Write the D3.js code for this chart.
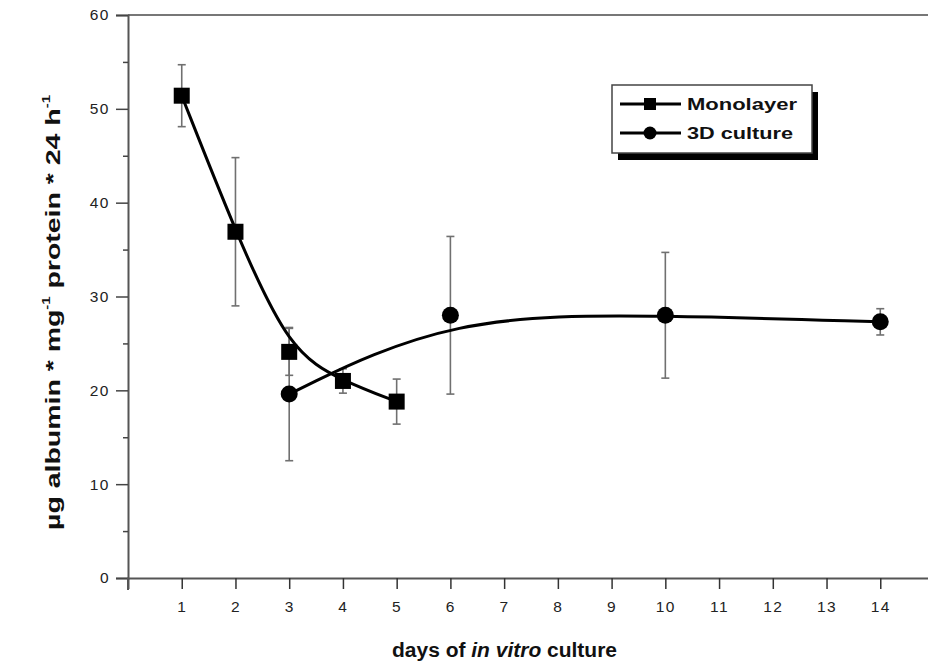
<!DOCTYPE html>
<html>
<head>
<meta charset="utf-8">
<script src="https://cdn.jsdelivr.net/npm/d3@7"></script>
<style>
  body { margin: 0; background: #fff; }
  svg { display: block; font-family: "Liberation Sans", Arial, Helvetica, sans-serif; }
</style>
</head>
<body>
<svg id="chart" width="928" height="664"></svg>
<script>
// ---- data ----
const monoDays  = [1, 2, 3, 4, 5];
const monoVals  = [51.4, 36.9, 24.1, 21.0, 18.8];
const monoErr   = [3.3, 7.9, 2.5, 1.3, 2.4];
const cultDays  = [3, 6, 10, 14];
const cultVals  = [19.6, 28.0, 28.0, 27.3];
const cultErr   = [7.1, 8.4, 6.7, 1.4];
const xTicks    = [1, 2, 3, 4, 5, 6, 7, 8, 9, 10, 11, 12, 13, 14];
const yTicks    = [0, 10, 20, 30, 40, 50, 60];
const yMinor    = [5, 15, 25, 35, 45, 55];
const seriesNames = ["Monolayer", "3D culture"];

(function () {
const svg = d3.select("#chart");
const mLeft = 128, mRight = 934, mTop = 15, mBottom = 578;
const x = d3.scaleLinear().domain([0, 15]).range([mLeft, mRight]);
const y = d3.scaleLinear().domain([0, 60]).range([mBottom, mTop]);

const axisColor = "#555";

// frame top line
svg.append("line").attr("x1", mLeft).attr("x2", 928).attr("y1", mTop).attr("y2", mTop)
  .attr("stroke", "#777").attr("stroke-width", 2);

// x axis
const xAxis = svg.append("g").attr("transform", `translate(0,${mBottom})`)
  .call(d3.axisBottom(x).tickValues(xTicks).tickSize(11).tickPadding(12).tickFormat(d3.format("d")));
xAxis.select(".domain").attr("stroke", axisColor).attr("stroke-width", 2);
xAxis.selectAll(".tick line").attr("stroke", "#333").attr("stroke-width", 1.5);
xAxis.selectAll("text").attr("font-size", 15.5).attr("letter-spacing", 1.5).attr("fill", "#222");

// y axis
const yAxis = svg.append("g").attr("transform", `translate(${mLeft},0)`)
  .call(d3.axisLeft(y).tickValues(yTicks).tickSize(12).tickPadding(6));
yAxis.select(".domain").attr("stroke", axisColor).attr("stroke-width", 2);
yAxis.selectAll(".tick line").attr("stroke", "#444").attr("stroke-width", 1.5);
yAxis.selectAll("text").attr("font-size", 15.5).attr("letter-spacing", 1.5).attr("fill", "#222");
const yAxisMinor = svg.append("g").attr("transform", `translate(${mLeft},0)`)
  .call(d3.axisLeft(y).tickValues(yMinor).tickSize(5).tickFormat(""));
yAxisMinor.select(".domain").remove();
yAxisMinor.selectAll(".tick line").attr("stroke", "#444").attr("stroke-width", 1.5);

// left axis extension below x-axis
svg.append("line").attr("x1", mLeft).attr("x2", mLeft).attr("y1", mBottom).attr("y2", mBottom + 12)
  .attr("stroke", axisColor).attr("stroke-width", 2);

// error bars
function errorBars(days, vals, errs) {
  const g = svg.append("g").attr("stroke", "#707070").attr("stroke-width", 1.6);
  days.forEach((d, i) => {
    const cx = x(d), y1 = y(vals[i] + errs[i]), y2 = y(vals[i] - errs[i]);
    g.append("line").attr("x1", cx).attr("x2", cx).attr("y1", y1).attr("y2", y2);
    g.append("line").attr("x1", cx - 4).attr("x2", cx + 4).attr("y1", y1).attr("y2", y1);
    g.append("line").attr("x1", cx - 4).attr("x2", cx + 4).attr("y1", y2).attr("y2", y2);
  });
}
errorBars(monoDays, monoVals, monoErr);
errorBars(cultDays, cultVals, cultErr);

// curves
const line = d3.line().x(d => x(d[0])).y(d => y(d[1])).curve(d3.curveBasis);
svg.append("path").datum(monoDays.map((d, i) => [d, monoVals[i]]))
  .attr("d", line).attr("fill", "none").attr("stroke", "#000").attr("stroke-width", 3);
svg.append("path").datum(cultDays.map((d, i) => [d, cultVals[i]]))
  .attr("d", line).attr("fill", "none").attr("stroke", "#000").attr("stroke-width", 3);

// markers
svg.append("g").selectAll("rect").data(monoDays).join("rect")
  .attr("x", d => x(d) - 8).attr("y", (d, i) => y(monoVals[i]) - 8)
  .attr("width", 16).attr("height", 16).attr("fill", "#000");
svg.append("g").selectAll("circle").data(cultDays).join("circle")
  .attr("cx", d => x(d)).attr("cy", (d, i) => y(cultVals[i])).attr("r", 8.5).attr("fill", "#000");

// legend
const lg = svg.append("g");
lg.append("rect").attr("x", 618).attr("y", 92).attr("width", 200).attr("height", 68).attr("fill", "#000");
lg.append("rect").attr("x", 612).attr("y", 85).attr("width", 200).attr("height", 68)
  .attr("fill", "#fff").attr("stroke", "#444").attr("stroke-width", 1.5);
const legendWidths = [110, 106];
[104, 133].forEach((ly, i) => {
  lg.append("line").attr("x1", 620).attr("x2", 681).attr("y1", ly).attr("y2", ly)
    .attr("stroke", "#000").attr("stroke-width", 3);
  if (i === 0) lg.append("rect").attr("x", 644).attr("y", ly - 6).attr("width", 12).attr("height", 12).attr("fill", "#000");
  else lg.append("circle").attr("cx", 650).attr("cy", ly).attr("r", 6.5).attr("fill", "#000");
  lg.append("text").attr("x", 687).attr("y", ly + 6).attr("font-size", 17).attr("font-weight", "bold")
    .attr("textLength", legendWidths[i]).attr("lengthAdjust", "spacingAndGlyphs")
    .attr("fill", "#111").text(seriesNames[i]);
});

// x title
const xt = svg.append("text").attr("x", 392).attr("y", 657)
  .attr("font-size", 20).attr("font-weight", "bold").attr("fill", "#111")
  .attr("textLength", 225).attr("lengthAdjust", "spacingAndGlyphs");
xt.append("tspan").text("days of ");
xt.append("tspan").attr("font-style", "italic").text("in vitro");
xt.append("tspan").text(" culture");

// y title
const yt = svg.append("text").attr("transform", "translate(60,530) rotate(-90)")
  .attr("font-size", 21).attr("font-weight", "bold").attr("fill", "#111")
  .attr("textLength", 435).attr("lengthAdjust", "spacingAndGlyphs");
yt.append("tspan").text("\u00B5g albumin * mg");
yt.append("tspan").attr("font-size", 11).attr("dy", -10).text("-1");
yt.append("tspan").attr("dy", 10).text("   protein * 24 h");
yt.append("tspan").attr("font-size", 11).attr("dy", -10).text("-1");
})();
</script>
</body>
</html>
